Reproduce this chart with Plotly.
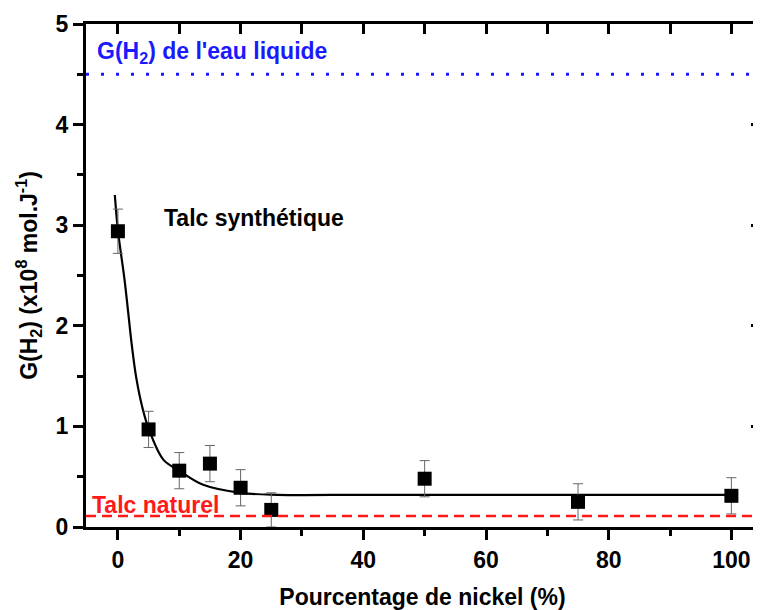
import plotly.graph_objects as go

# measured points
nickel_pct = [0, 5, 10, 15, 20, 25, 50, 75, 100]
g_h2 = [2.94, 0.97, 0.56, 0.63, 0.39, 0.17, 0.48, 0.25, 0.31]
g_err = [0.22, 0.18, 0.18, 0.18, 0.18, 0.17, 0.18, 0.18, 0.18]

# fitted curve
fit_x = [-0.5, 0, 1.1, 1.7, 2.3, 3.0, 4.1, 5, 7.4, 10, 13.9, 20, 26, 40, 60, 80, 100]
fit_y = [3.30, 2.95, 2.45, 2.12, 1.79, 1.48, 1.16, 0.98, 0.67, 0.56, 0.42, 0.34, 0.32, 0.32, 0.32, 0.32, 0.32]

# reference levels
g_eau_liquide = 4.5
g_talc_naturel = 0.11

x_range = [-5.2, 104.5]
y_range = [0, 5]

fnt = "Arial, Liberation Sans, sans-serif"

fig = go.Figure()

fig.add_trace(go.Scatter(x=fit_x, y=fit_y, mode="lines", line=dict(color="black", width=2.2, shape="spline"),
                         hoverinfo="skip"))

fig.add_trace(go.Scatter(
    x=nickel_pct, y=g_h2, mode="markers",
    marker=dict(symbol="square", size=14, color="black"),
    error_y=dict(type="data", array=g_err, color="#666666", thickness=1, width=5),
))

# dummy trace so the top/right axes get drawn
fig.add_trace(go.Scatter(x=[None], y=[None], xaxis="x2", yaxis="y2", showlegend=False))

fig.add_hline(y=g_eau_liquide, line=dict(color="#1a1aff", width=3, dash="3px,12px"))
fig.add_hline(y=g_talc_naturel, line=dict(color="#ff1a1a", width=2.5, dash="10px,6px"))

# page body has an 8px margin, so the figure is sized/offset for it
fig.update_layout(
    width=753,
    height=602,
    margin=dict(l=78, r=2, t=16, b=83),
    plot_bgcolor="white",
    paper_bgcolor="white",
    showlegend=False,
    font=dict(family=fnt, color="black"),
    xaxis=dict(
        range=x_range, showline=True, linewidth=3, linecolor="black", mirror=True,
        ticks="outside", ticklen=10, tickwidth=3, tickcolor="black", automargin=False,
        tick0=0, dtick=20, showgrid=False, zeroline=False,
        minor=dict(ticks="outside", ticklen=6, tickwidth=3, tickcolor="black", dtick=10, showgrid=False),
        tickfont=dict(size=23, weight="bold"),
        title=dict(text="Pourcentage de nickel (%)", font=dict(size=23, weight="bold"), standoff=18),
    ),
    yaxis=dict(
        range=y_range, showline=True, linewidth=3, linecolor="black", mirror=True,
        ticks="outside", ticklen=10, tickwidth=3, tickcolor="black", automargin=False,
        tick0=0, dtick=1, showgrid=False, zeroline=False,
        minor=dict(ticks="outside", ticklen=6, tickwidth=3, tickcolor="black", dtick=0.5, showgrid=False),
        tickfont=dict(size=23, weight="bold"),
        title=dict(text="G(H<sub>2</sub>) (x10<sup>8</sup> mol.J<sup>-1</sup>)",
                   font=dict(size=23, weight="bold"), standoff=12),
    ),
    xaxis2=dict(
        range=x_range, overlaying="x", side="top", showline=False, showgrid=False, zeroline=False,
        ticks="inside", ticklen=10, tickwidth=3, tickcolor="black", tick0=0, dtick=20, automargin=False,
        minor=dict(ticks="inside", ticklen=10, tickwidth=3, tickcolor="black", dtick=10),
        showticklabels=False,
    ),
    yaxis2=dict(
        range=y_range, overlaying="y", side="right", showline=False, showgrid=False, zeroline=False,
        ticks="inside", ticklen=8, tickwidth=3, tickcolor="black", tick0=0, dtick=1, automargin=False,
        minor=dict(ticks="inside", ticklen=6, tickwidth=3, tickcolor="black", dtick=0.5),
        showticklabels=False,
    ),
    annotations=[
        dict(text="G(H<sub>2</sub>) de l'eau liquide", x=-3.8, y=4.72, xref="x", yref="y",
             xanchor="left", yanchor="middle", showarrow=False,
             font=dict(size=23, color="#1a1aff", weight="bold")),
        dict(text="Talc synthétique", x=7.2, y=3.07, xref="x", yref="y",
             xanchor="left", yanchor="middle", showarrow=False,
             font=dict(size=23, color="black", weight="bold")),
        dict(text="Talc naturel", x=-4.6, y=0.22, xref="x", yref="y",
             xanchor="left", yanchor="middle", showarrow=False,
             font=dict(size=23, color="#ff1a1a", weight="bold")),
    ],
)

fig.write_html("out.html")
